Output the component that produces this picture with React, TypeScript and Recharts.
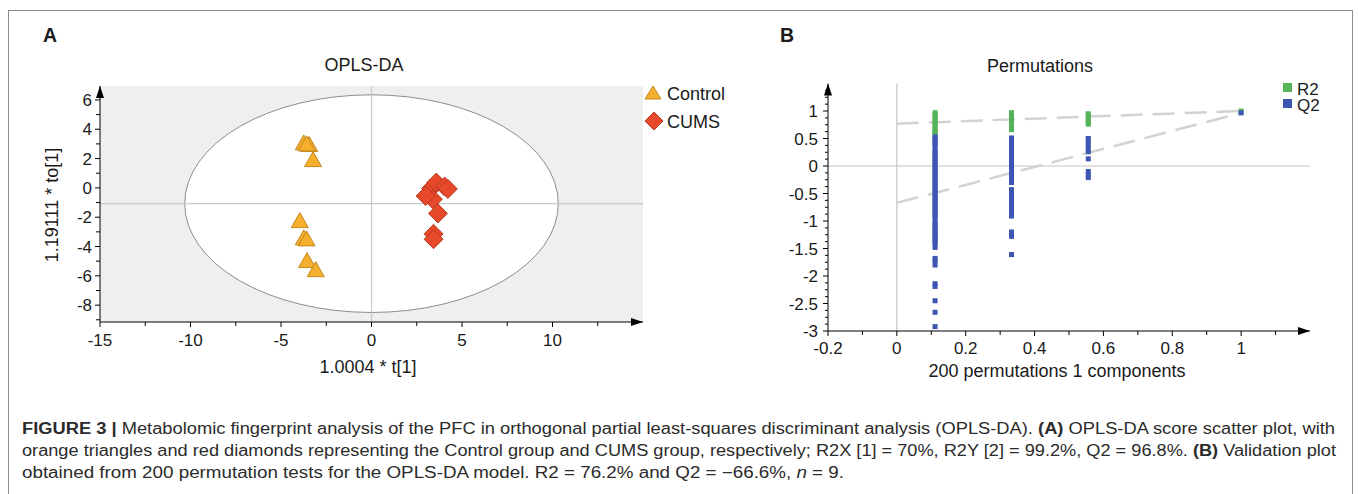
import * as React from 'react';
import { ScatterChart, Scatter, XAxis, YAxis, ReferenceArea, ReferenceLine } from 'recharts';

const FONT = '"Liberation Sans", Arial, Helvetica, sans-serif';
const INK = '#1a1a1a';

// ---- Panel A: OPLS-DA scores ----
const controlX = [-3.74, -3.44, -3.58, -3.23, -3.96, -3.74, -3.59, -3.56, -3.08];
const controlY = [3.07, 2.96, 3.0, 1.93, -2.23, -3.41, -3.48, -4.96, -5.58];
const cumsX = [3.3, 3.58, 4.04, 4.22, 3.39, 2.99, 3.67, 3.43, 3.43];
const cumsY = [-0.03, 0.36, 0.09, -0.07, -0.77, -0.55, -1.74, -3.14, -3.5];

// Hotelling T2 ellipse bounds and centre line
const ellipseX = [-10.32, 10.32];
const ellipseY = [-8.5, 6.35];
const centreLineY = -1.07;

const xDomainA = [-15, 15];
const yDomainA = [-9.15, 6.95];
const xTicksA = [-15, -12.5, -10, -7.5, -5, -2.5, 0, 2.5, 5, 7.5, 10, 12.5];
const yTicksA = [-9, -8, -7, -6, -5, -4, -3, -2, -1, 0, 1, 2, 3, 4, 5, 6];

// ---- Panel B: permutation test ----
const permX = [0.111, 0.333, 0.556, 1.0];
const r2Cols = [
  [0.97, 0.93, 0.89, 0.85, 0.81, 0.77, 0.73, 0.69, 0.65, 0.61, 0.58],
  [0.97, 0.93, 0.89, 0.85, 0.81, 0.77, 0.73, 0.69, 0.66],
  [0.95, 0.91, 0.87, 0.83, 0.79, 0.76],
  [1.0],
];
const q2Cols = [
  [0.53, 0.49, 0.45, 0.41, 0.37, 0.3, 0.26, 0.22, 0.18, 0.14, 0.1, 0.06, 0.02, -0.02, -0.06, -0.1,
    -0.14, -0.18, -0.22, -0.26, -0.3, -0.34, -0.38, -0.42, -0.46, -0.5, -0.54, -0.58, -0.62, -0.66,
    -0.7, -0.74, -0.78, -0.82, -0.86, -0.9, -0.94, -1.01, -1.05, -1.09, -1.13, -1.17, -1.21, -1.25,
    -1.29, -1.33, -1.37, -1.41, -1.48, -1.68, -1.72, -1.8, -2.14, -2.19, -2.45, -2.66, -2.92],
  [0.51, 0.47, 0.43, 0.39, 0.35, 0.31, 0.27, 0.23, 0.19, 0.15, 0.11, 0.07, 0.03, -0.01, -0.05, -0.09,
    -0.13, -0.17, -0.21, -0.25, -0.3, -0.43, -0.47, -0.51, -0.55, -0.59, -0.63, -0.67, -0.71, -0.75,
    -0.79, -0.84, -0.91, -1.2, -1.28, -1.61],
  [0.5, 0.45, 0.38, 0.31, 0.26, 0.13, -0.1, -0.16, -0.21],
  [0.965],
];
const r2Intercept = [{ x: 0, y: 0.77 }, { x: 1, y: 1.0 }];
const q2Intercept = [{ x: 0, y: -0.67 }, { x: 1, y: 0.965 }];

const xDomainB = [-0.2, 1.2];
const yDomainB = [-3, 1.5];
const xTicksB = [-0.2, -0.1, 0, 0.1, 0.2, 0.3, 0.4, 0.5, 0.6, 0.7, 0.8, 0.9, 1, 1.1];
const yTicksB = [-3, -2.875, -2.75, -2.625, -2.5, -2.375, -2.25, -2.125, -2, -1.875, -1.75, -1.625,
  -1.5, -1.375, -1.25, -1.125, -1, -0.875, -0.75, -0.625, -0.5, -0.375, -0.25, -0.125, 0, 0.125,
  0.25, 0.375, 0.5, 0.625, 0.75, 0.875, 1, 1.125, 1.25, 1.375];

const controlData = controlX.map((x, i) => ({ x, y: controlY[i] }));
const cumsData = cumsX.map((x, i) => ({ x, y: cumsY[i] }));
const r2Data = permX.flatMap((x, i) => r2Cols[i].map((y) => ({ x, y })));
const q2Data = permX.flatMap((x, i) => q2Cols[i].map((y) => ({ x, y })));

const triangle = (p: any) => (
  <polygon
    points={`${p.cx},${p.cy - 8} ${p.cx - 8.5},${p.cy + 7} ${p.cx + 8.5},${p.cy + 7}`}
    fill="#F4AF2D"
    stroke="#C58821"
    strokeWidth={1}
  />
);
const diamond = (p: any) => (
  <polygon
    points={`${p.cx},${p.cy - 9.5} ${p.cx + 9.5},${p.cy} ${p.cx},${p.cy + 9.5} ${p.cx - 9.5},${p.cy}`}
    fill="#E8492A"
    stroke="#B33A1F"
    strokeWidth={1}
  />
);
const square = (color: string) => (p: any) => (
  <rect x={p.cx - 2.5} y={p.cy - 2.5} width={5} height={5} fill={color} />
);

const fmt = (v: number) => String(Math.round(v * 1000) / 1000);

const XTickA = (p: any) => {
  const v = p.payload.value;
  const major = v % 5 === 0;
  return (
    <g>
      <line x1={p.x} x2={p.x} y1={p.y} y2={p.y + (major ? 5 : 4)} stroke="#000" />
      {major && (
        <text x={p.x} y={p.y + 23.5} textAnchor="middle" fontSize={17} fontFamily={FONT} fill={INK}>
          {fmt(v)}
        </text>
      )}
    </g>
  );
};
const YTickA = (p: any) => {
  const v = p.payload.value;
  const major = v % 2 === 0;
  return (
    <g>
      <line x1={p.x - (major ? 5 : 4)} x2={p.x} y1={p.y} y2={p.y} stroke="#000" />
      {major && (
        <text x={p.x - 8} y={p.y} dy="0.36em" textAnchor="end" fontSize={17} fontFamily={FONT} fill={INK}>
          {fmt(v)}
        </text>
      )}
    </g>
  );
};
const XTickB = (p: any) => {
  const v = p.payload.value;
  const major = Math.round(v * 10) % 2 === 0;
  return (
    <g>
      <line x1={p.x} x2={p.x} y1={p.y} y2={p.y + (major ? 5 : 4)} stroke="#000" />
      {major && (
        <text x={p.x} y={p.y + 23} textAnchor="middle" fontSize={17} fontFamily={FONT} fill={INK}>
          {fmt(v)}
        </text>
      )}
    </g>
  );
};
const YTickB = (p: any) => {
  const v = p.payload.value;
  const major = Math.abs(v * 2 - Math.round(v * 2)) < 1e-6;
  return (
    <g>
      <line x1={p.x - (major ? 5 : 3)} x2={p.x} y1={p.y} y2={p.y} stroke="#000" />
      {major && (
        <text x={p.x - 10} y={p.y} dy="0.36em" textAnchor="end" fontSize={17} fontFamily={FONT} fill={INK}>
          {fmt(v)}
        </text>
      )}
    </g>
  );
};

const arrowDefs = (id: string) => (
  <defs>
    <marker id={id} viewBox="0 0 12 8" refX={12} refY={4} markerWidth={12} markerHeight={8}
      markerUnits="userSpaceOnUse" orient="auto-start-reverse">
      <path d="M0,0 L12,4 L0,8 z" fill="#000" />
    </marker>
  </defs>
);

const ScoresChart = () => (
  <ScatterChart width={760} height={340} margin={{ top: 46, right: 117, bottom: 28, left: 0 }}>
    {arrowDefs('arrA')}
    <XAxis type="number" dataKey="x" domain={xDomainA} ticks={xTicksA} interval={0} allowDataOverflow
      height={30} tickSize={0} tickMargin={0} tick={(p: any) => <XTickA {...p} />}
      axisLine={{ stroke: '#000', markerEnd: 'url(#arrA)' }} />
    <YAxis type="number" dataKey="y" domain={yDomainA} ticks={yTicksA} interval={0} allowDataOverflow
      width={100} tickSize={0} tickMargin={0} tick={(p: any) => <YTickA {...p} />}
      axisLine={{ stroke: '#000', markerStart: 'url(#arrA)' }} />
    <ReferenceArea x1={xDomainA[0]} x2={xDomainA[1]} y1={yDomainA[0]} y2={yDomainA[1]}
      fill="#efefef" fillOpacity={1} stroke="none" />
    <ReferenceArea x1={ellipseX[0]} x2={ellipseX[1]} y1={ellipseY[0]} y2={ellipseY[1]}
      shape={(r: any) => (
        <ellipse cx={r.x + r.width / 2} cy={r.y + r.height / 2} rx={r.width / 2} ry={r.height / 2}
          fill="#fff" stroke="#8c8c8c" strokeWidth={1} />
      )} />
    <ReferenceLine x={0} stroke="#c8c8c8" strokeWidth={1.2} />
    <ReferenceLine y={centreLineY} stroke="#c8c8c8" strokeWidth={1.2} />
    <Scatter name="Control" data={controlData} shape={triangle} isAnimationActive={false} />
    <Scatter name="CUMS" data={cumsData} shape={diamond} isAnimationActive={false} />
  </ScatterChart>
);

const PermutationChart = () => (
  <ScatterChart width={610} height={340} margin={{ top: 43.5, right: 40, bottom: 19, left: 0 }}>
    {arrowDefs('arrB')}
    <XAxis type="number" dataKey="x" domain={xDomainB} ticks={xTicksB} interval={0} allowDataOverflow
      height={30} tickSize={0} tickMargin={0} tick={(p: any) => <XTickB {...p} />}
      axisLine={{ stroke: '#000', markerEnd: 'url(#arrB)' }} />
    <YAxis type="number" dataKey="y" domain={yDomainB} ticks={yTicksB} interval={0} allowDataOverflow
      width={88} tickSize={0} tickMargin={0} tick={(p: any) => <YTickB {...p} />}
      axisLine={{ stroke: '#000', markerStart: 'url(#arrB)' }} />
    <ReferenceLine x={0} stroke="#c4c4c4" strokeWidth={1.2} />
    <ReferenceLine y={0} stroke="#c4c4c4" strokeWidth={1.2} />
    <ReferenceLine segment={r2Intercept} stroke="#d2d2d2" strokeWidth={2.5} strokeDasharray="22 10" />
    <ReferenceLine segment={q2Intercept} stroke="#d2d2d2" strokeWidth={2.5} strokeDasharray="22 10" />
    <Scatter name="R2" data={r2Data} shape={square('#55b35a')} isAnimationActive={false} />
    <Scatter name="Q2" data={q2Data} shape={square('#3d56b3')} isAnimationActive={false} />
  </ScatterChart>
);

export default function App() {
  return (
    <div style={{ position: 'absolute', left: 0, top: 0, width: 1358, height: 494, overflow: 'hidden', background: '#fff' }}>
      <div style={{ position: 'absolute', left: 8, top: 10, width: 1345, height: 520, border: '1.5px solid #8c8c8c', boxSizing: 'border-box' }} />
      <div style={{ position: 'absolute', left: 0, top: 40 }}>
        <ScoresChart />
      </div>
      <div style={{ position: 'absolute', left: 740, top: 40 }}>
        <PermutationChart />
      </div>
      <svg width={1358} height={494} style={{ position: 'absolute', left: 0, top: 0, pointerEvents: 'none' }}
        fontFamily={FONT} fill={INK}>
        <text x={43} y={42} fontSize={19.5} fontWeight="bold">A</text>
        <text x={780} y={42} fontSize={19.5} fontWeight="bold">B</text>
        <text x={364} y={71} fontSize={18} textAnchor="middle">OPLS-DA</text>
        <text x={1040} y={72} fontSize={18} textAnchor="middle">Permutations</text>
        <text x={368} y={373} fontSize={18} textAnchor="middle">1.0004 * t[1]</text>
        <text x={58} y={205} fontSize={18} textAnchor="middle" transform="rotate(-90 58 205)">1.19111 * to[1]</text>
        <text x={1057} y={377} fontSize={18} textAnchor="middle">200 permutations 1 components</text>

        <polygon points="653,86 645,99 661,99" fill="#F4AF2D" stroke="#C58821" />
        <text x={667} y={99.5} fontSize={18}>Control</text>
        <polygon points="654,112 663,121 654,130 645,121" fill="#E8492A" stroke="#B33A1F" />
        <text x={667} y={127.5} fontSize={18}>CUMS</text>

        <rect x={1283} y={83} width={9} height={9} fill="#55b35a" />
        <text x={1297} y={95} fontSize={17}>R2</text>
        <rect x={1283} y={99} width={9} height={9} fill="#3d56b3" />
        <text x={1297} y={111} fontSize={17}>Q2</text>

        <g fontSize={16} fill="#2b2b2b">
          <text x={22} y={434} textLength={1313} lengthAdjust="spacingAndGlyphs">
            <tspan fontWeight="bold">FIGURE 3 |</tspan> Metabolomic fingerprint analysis of the PFC in orthogonal partial least-squares discriminant analysis (OPLS-DA). <tspan fontWeight="bold">(A)</tspan> OPLS-DA score scatter plot, with
          </text>
          <text x={22} y={456} textLength={1314} lengthAdjust="spacingAndGlyphs">
            orange triangles and red diamonds representing the Control group and CUMS group, respectively; R2X [1] = 70%, R2Y [2] = 99.2%, Q2 = 96.8%. <tspan fontWeight="bold">(B)</tspan> Validation plot
          </text>
          <text x={22} y={478} textLength={822} lengthAdjust="spacingAndGlyphs">
            obtained from 200 permutation tests for the OPLS-DA model. R2 = 76.2% and Q2 = −66.6%, <tspan fontStyle="italic">n</tspan> = 9.
          </text>
        </g>
      </svg>
    </div>
  );
}
